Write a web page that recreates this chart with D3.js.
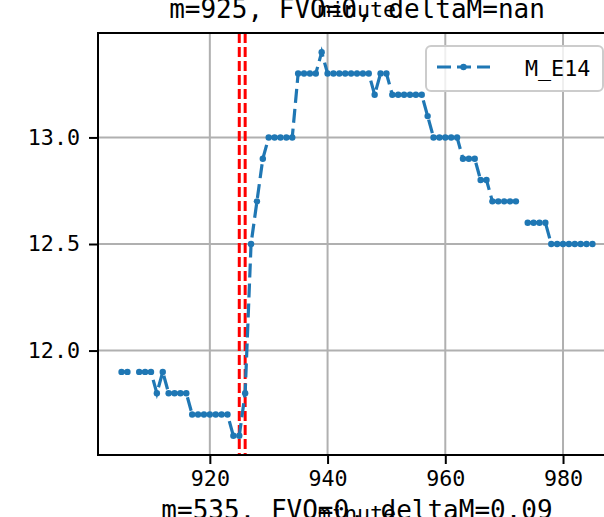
<!DOCTYPE html>
<html><head><meta charset="utf-8">
<script src="https://cdn.jsdelivr.net/npm/d3@7"></script>
<style>body{margin:0;background:#fff}svg{display:block}text{font-family:"DejaVu Sans Mono","Liberation Mono",monospace}</style>
</head><body><div id="chart"></div>
<script>
const minutes = d3.range(905, 986);
const mE14 = [
  11.9, 11.9, null, 11.9, 11.9, 11.9, 11.8, 11.9, 11.8, 11.8, 11.8, 11.8,
  11.7, 11.7, 11.7, 11.7, 11.7, 11.7, 11.7,
  11.6, 11.6, 11.8, 12.5, 12.7, 12.9,
  13.0, 13.0, 13.0, 13.0, 13.0,
  13.3, 13.3, 13.3, 13.3,
  13.4,
  13.3, 13.3, 13.3, 13.3, 13.3, 13.3, 13.3, 13.3,
  13.2, 13.3, 13.3,
  13.2, 13.2, 13.2, 13.2, 13.2, 13.2,
  13.1,
  13.0, 13.0, 13.0, 13.0, 13.0,
  12.9, 12.9, 12.9,
  12.8, 12.8,
  12.7, 12.7, 12.7, 12.7, 12.7,
  null,
  12.6, 12.6, 12.6, 12.6,
  12.5, 12.5, 12.5, 12.5, 12.5, 12.5, 12.5, 12.5
];
const xTicks = [920, 940, 960, 980];
const yTicks = [12.0, 12.5, 13.0];
const vLines = [925, 926];
const seriesName = "M_E14";
const titleText = "m=925, FVO=0, deltaM=nan";
const nextTitleText = "m=535, FVO=0, deltaM=0.09";
const xLabelText = "minute";

(function () {
const W = 604, H = 517;
const pL = 98, pR = 616, pT = 33, pB = 455;
const FONT = '"DejaVu Sans Mono","Liberation Mono",monospace';
const svg = d3.select("#chart").append("svg").attr("width", W).attr("height", H);
svg.append("rect").attr("width", W).attr("height", H).attr("fill", "#fff");

const data = minutes.map((m, i) => ({m, v: mE14[i]}));
const x = d3.scaleLinear().domain([901, 989]).range([pL, pR]);
const y = d3.scaleLinear().domain([11.51, 13.49]).range([pB, pT]);

svg.append("clipPath").attr("id", "c").append("rect")
  .attr("x", pL).attr("y", pT).attr("width", pR - pL).attr("height", pB - pT);

const grid = svg.append("g");
grid.selectAll(".gx").data(xTicks).join("line")
  .attr("x1", d => x(d)).attr("x2", d => x(d)).attr("y1", pT).attr("y2", pB)
  .attr("stroke", "#b0b0b0").attr("stroke-width", 2);
grid.selectAll(".gy").data(yTicks).join("line")
  .attr("x1", pL).attr("x2", pR).attr("y1", d => y(d)).attr("y2", d => y(d))
  .attr("stroke", "#b0b0b0").attr("stroke-width", 2);

const plot = svg.append("g").attr("clip-path", "url(#c)");
plot.selectAll(".vl").data(vLines).join("line")
  .attr("x1", d => x(d)).attr("x2", d => x(d)).attr("y1", pT).attr("y2", pB)
  .attr("stroke", "#ff0000").attr("stroke-width", 3).attr("stroke-dasharray", "10,4");

const line = d3.line().defined(d => d.v != null).x(d => x(d.m)).y(d => y(d.v));
plot.append("path").datum(data).attr("d", line).attr("fill", "none")
  .attr("stroke", "#1f77b4").attr("stroke-width", 3.2).attr("stroke-dasharray", "14,6");
plot.selectAll(".pt").data(data.filter(d => d.v != null)).join("circle")
  .attr("cx", d => x(d.m)).attr("cy", d => y(d.v)).attr("r", 3.2).attr("fill", "#1f77b4");

const xAxis = svg.append("g").attr("transform", `translate(0,${pB})`)
  .call(d3.axisBottom(x).tickValues(xTicks).tickSizeOuter(0).tickSize(9).tickPadding(7).tickFormat(d3.format("d")));
const yAxis = svg.append("g").attr("transform", `translate(${pL},0)`)
  .call(d3.axisLeft(y).tickValues(yTicks).tickSizeOuter(0).tickSize(9).tickPadding(9).tickFormat(d3.format(".1f")));
[xAxis, yAxis].forEach(a => {
  a.select(".domain").remove();
  a.selectAll("line").attr("stroke", "#000").attr("stroke-width", 2);
  a.selectAll("text").attr("font-size", 21.7).attr("fill", "#000").style("font-family", FONT);
});
const spine = (x1, y1, x2, y2) => svg.append("line").attr("x1", x1).attr("y1", y1).attr("x2", x2).attr("y2", y2)
  .attr("stroke", "#000").attr("stroke-width", 2).attr("stroke-linecap", "square");
spine(pL, pT, pL, pB); spine(pL, pT, pR, pT); spine(pL, pB, pR, pB); spine(pR, pT, pR, pB);

const lg = svg.append("g");
lg.append("rect").attr("x", 426).attr("y", 46).attr("width", 177).attr("height", 45).attr("rx", 5)
  .attr("fill", "#fff").attr("fill-opacity", 0.8).attr("stroke", "#cccccc").attr("stroke-width", 2);
lg.append("line").attr("x1", 437).attr("x2", 490).attr("y1", 67).attr("y2", 67)
  .attr("stroke", "#1f77b4").attr("stroke-width", 3.2).attr("stroke-dasharray", "14,6");
lg.append("circle").attr("cx", 463.5).attr("cy", 67).attr("r", 3.2).attr("fill", "#1f77b4");
lg.append("text").attr("x", 525).attr("y", 76).attr("font-size", 21.7).attr("fill", "#000").text(seriesName);

const cx = (pL + pR) / 2;
svg.append("text").attr("x", cx).attr("y", 18).attr("text-anchor", "middle").attr("font-size", 26).attr("fill", "#000").text(titleText);
svg.append("text").attr("x", cx).attr("y", 17).attr("text-anchor", "middle").attr("font-size", 21.7).attr("fill", "#000").text(xLabelText);
svg.append("text").attr("x", cx).attr("y", 521).attr("text-anchor", "middle").attr("font-size", 21.7).attr("fill", "#000").text(xLabelText);
svg.append("text").attr("x", cx).attr("y", 519).attr("text-anchor", "middle").attr("font-size", 26).attr("fill", "#000").text(nextTitleText);
})();
</script></body></html>
